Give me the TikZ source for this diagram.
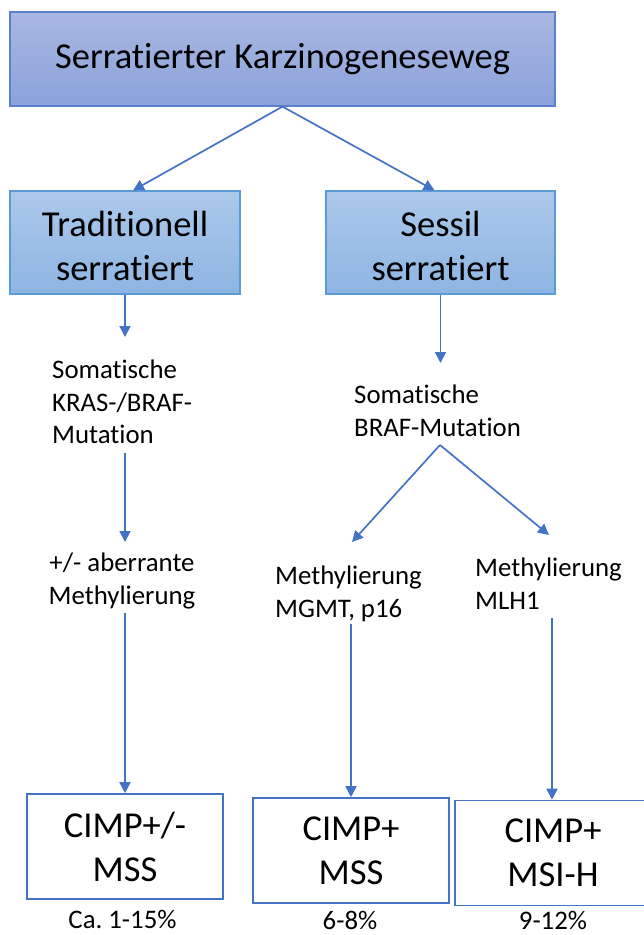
\documentclass[tikz,border=0pt]{standalone}
\usepackage{fontspec}
\setmainfont{Carlito}[Ligatures=NoCommon]
\usetikzlibrary{arrows.meta,calc}
\definecolor{arrowblue}{RGB}{68,114,196}
\definecolor{topA}{RGB}{169,183,226}
\definecolor{topB}{RGB}{138,162,218}
\definecolor{topD}{RGB}{92,128,208}
\definecolor{midA}{RGB}{171,200,234}
\definecolor{midB}{RGB}{142,181,227}
\definecolor{midD}{RGB}{91,155,213}
\tikzset{
  arr/.style={draw=arrowblue, line width=1.7pt, -{Triangle[length=11pt,width=11pt]}},
  bigtxt/.style={font=\fontsize{36.5}{44}\selectfont},
  smalltxt/.style={font=\fontsize{26.8}{32.5}\selectfont, inner sep=0pt},
  topbox/.style={draw=topD, line width=1.2pt, top color=topA, bottom color=topB, bigtxt, align=center},
  midbox/.style={draw=midD, line width=1.2pt, top color=midA, bottom color=midB, minimum width=230pt, minimum height=103pt},
  resbox/.style={draw=arrowblue, line width=1.6pt, fill=white, bigtxt, align=center, minimum width=196pt, minimum height=105pt},
}
\begin{document}
\begin{tikzpicture}[x=1pt,y=-1pt]
\useasboundingbox (0,0) rectangle (643,935);
% boxes
\node[topbox, minimum width=545pt, minimum height=94pt] (top) at (282.5,59) {Serratierter Karzinogeneseweg};
\node[midbox] (trad) at (125,242.5) {};
\node[midbox, minimum width=229pt] (sess) at (440.5,242.5) {};
\node[bigtxt, align=center] (tradtxt) at ($(trad.center)+(0,3)$) {Traditionell\\serratiert};
\node[bigtxt, align=center] (sesstxt) at ($(sess.center)+(0,3)$) {Sessil\\serratiert};
\node[resbox] (r1) at (125,846.5) {CIMP+/-\\MSS};
\node[resbox] (r2) at (351,850.5) {CIMP+\\MSS};
\node[resbox] (r3) at (553,853) {CIMP+\\MSI-H};
% text nodes (anchor at last baseline + 8.5)
\node[smalltxt, anchor=base west, align=left] (som1) at (52,443.5) {Somatische\\KRAS-/BRAF-\\Mutation};
\node[smalltxt, anchor=base, align=center] (aber) at (122,604) {+/- aberrante\\Methylierung};
\node[smalltxt, anchor=base west, align=left] (som2) at (354,436) {Somatische\\BRAF-Mutation};
\node[smalltxt, anchor=base west, align=left] (mgmt) at (275,617) {Methylierung\\MGMT, p16};
\node[smalltxt, anchor=base west, align=left] (mlh) at (475,609) {Methylierung\\MLH1};
% percentages
\node[smalltxt, anchor=base] (p1) at (122.5,928) {Ca.\ 1-15\%};
\node[smalltxt, anchor=base] (p2) at (350,929) {6-8\%};
\node[smalltxt, anchor=base] (p3) at (553,929) {9-12\%};
% arrow end points
\coordinate (k1) at (125,337);
\coordinate (k2) at (440.5,363);
\coordinate (s1a) at (125,453);
\coordinate (s1b) at (125,542);
\coordinate (ab) at (125,613);
\coordinate (apex) at (440,445);
\coordinate (mg) at (352,542);
\coordinate (ml) at (549,535);
\coordinate (mgs) at (351,624);
\coordinate (mls) at (552,618);
% connectors
\draw[arr] (top.south) -- ($(trad.north)+(8,0)$);
\draw[arr] (top.south) -- ($(sess.north)+(-6,0)$);
\draw[arr] (trad.south) -- (k1);
\draw[arr] (sess.south) -- (k2);
\draw[arr] (s1a) -- (s1b);
\draw[arr] (ab) -- (r1.north);
\draw[arr] (apex) -- (mg);
\draw[arr] (apex) -- (ml);
\draw[arr] (mgs) -- (r2.north);
\draw[arr] (mls) -- (mls |- r3.north);
\end{tikzpicture}
\end{document}
